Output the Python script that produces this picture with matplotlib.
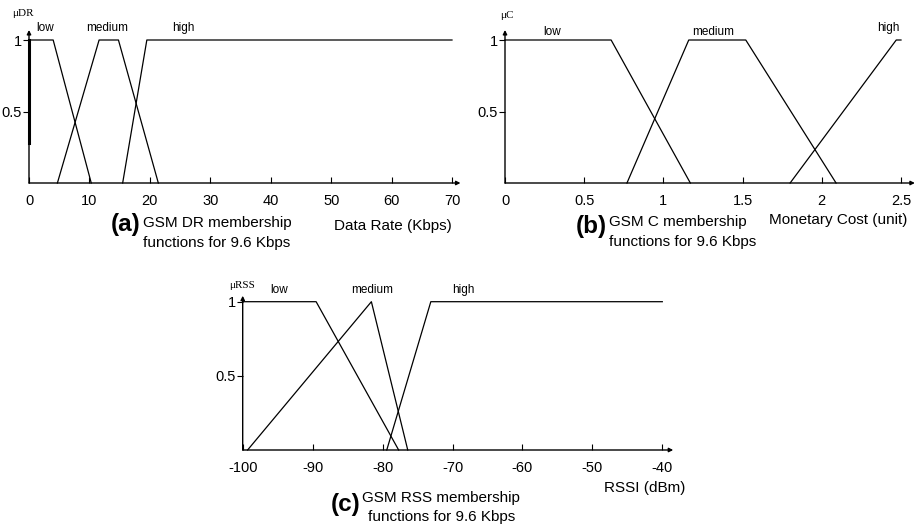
import matplotlib
matplotlib.use("Agg")
from matplotlib import pyplot as plt

plt.rcParams['font.family'] = ['Liberation Sans', 'DejaVu Sans']

W, H = 918, 525

# (a) data rate membership functions
dr_low_x = [0, 4.0, 10.3]
dr_low_y = [1, 1, 0]
dr_med_x = [4.7, 11.6, 14.8, 21.4]
dr_med_y = [0, 1, 1, 0]
dr_high_x = [15.5, 19.5, 70]
dr_high_y = [0, 1, 1]
dr_ticks = [0, 10, 20, 30, 40, 50, 60, 70]

# (b) monetary cost membership functions
c_low_x = [0, 0.67, 1.17]
c_low_y = [1, 1, 0]
c_med_x = [0.77, 1.16, 1.52, 2.09]
c_med_y = [0, 1, 1, 0]
c_high_x = [1.80, 2.47, 2.5]
c_high_y = [0, 1, 1]
c_ticks = [0, 0.5, 1, 1.5, 2, 2.5]

# (c) RSS membership functions
rss_low_x = [-100, -89.5, -77.7]
rss_low_y = [1, 1, 0]
rss_med_x = [-99.3, -81.6, -76.4]
rss_med_y = [0, 1, 0]
rss_high_x = [-79.4, -73.1, -40]
rss_high_y = [0, 1, 1]
rss_ticks = [-100, -90, -80, -70, -60, -50, -40]

fig = plt.figure(figsize=(W / 100, H / 100), dpi=100)


def px_text(x, y, s, **kw):
    fig.text(x / W, 1 - y / H, s, **kw)


def make_axes(x0, x1, y_top, y_bot, xlim, xticks, xtip, ytip):
    ax = fig.add_axes([x0 / W, 1 - y_bot / H, (x1 - x0) / W, (y_bot - y_top) / H])
    ax.set_xlim(*xlim)
    ax.set_ylim(0, 1)
    for s in ax.spines.values():
        s.set_visible(False)
    ax.set_xticks(xticks)
    ax.set_xticklabels([('%g' % t) for t in xticks])
    ax.set_yticks([0.5, 1])
    ax.set_yticklabels(['0.5', '1'])
    ax.tick_params(axis='x', direction='in', length=4, width=0.8, labelsize=10.5, pad=8)
    ax.tick_params(axis='y', direction='out', length=4, width=0.8, labelsize=10.5, pad=1)
    ax.patch.set_visible(False)
    # axis lines with arrow heads
    ap = dict(arrowstyle='-|>', lw=1.0, color='k', mutation_scale=6, shrinkA=0, shrinkB=0)
    ax.annotate('', xy=(xtip, 0), xytext=(0, 0), xycoords='axes fraction', arrowprops=ap)
    ax.annotate('', xy=(0, ytip), xytext=(0, 0), xycoords='axes fraction', arrowprops=ap)
    return ax


def draw(ax, curves):
    for xs, ys in curves:
        ax.plot(xs, ys, color='k', lw=0.9, clip_on=False)


# panel (a)
ax1 = make_axes(29, 452, 40, 183, (0, 70), dr_ticks, 1.02, 1.07)
draw(ax1, [(dr_low_x, dr_low_y), (dr_med_x, dr_med_y), (dr_high_x, dr_high_y)])
ax1.plot([0, 0], [0.28, 1], color='k', lw=2.2, clip_on=False)

# panel (b)
ax2 = make_axes(505, 901, 40, 183, (0, 2.5), c_ticks, 1.035, 1.07)
draw(ax2, [(c_low_x, c_low_y), (c_med_x, c_med_y), (c_high_x, c_high_y)])

# panel (c)
ax3 = make_axes(242.7, 662.3, 301.7, 450, (-100, -40), rss_ticks, 1.026, 1.04)
draw(ax3, [(rss_low_x, rss_low_y), (rss_med_x, rss_med_y), (rss_high_x, rss_high_y)])

small = dict(fontsize=8.5, ha='center', va='center')
serif = dict(fontsize=8, ha='center', va='center', family=['Liberation Serif', 'DejaVu Serif'])
cap = dict(fontsize=11, ha='left', va='center')
big = dict(fontsize=17.5, fontweight='bold', ha='right', va='center')

# labels (a)
px_text(23, 13, 'μDR', **serif)
px_text(45, 28, 'low', **small)
px_text(107, 28, 'medium', **small)
px_text(183, 28, 'high', **small)
px_text(140, 225, '(a)', **big)
px_text(143, 223, 'GSM DR membership', **cap)
px_text(143, 243, 'functions for 9.6 Kbps', **cap)
px_text(393, 226, 'Data Rate (Kbps)', fontsize=11, ha='center', va='center')

# labels (b)
px_text(507, 15, 'μC', **serif)
px_text(552, 32, 'low', **small)
px_text(713, 32, 'medium', **small)
px_text(888, 28, 'high', **small)
px_text(607, 226, '(b)', **big)
px_text(609, 222, 'GSM C membership', **cap)
px_text(609, 242, 'functions for 9.6 Kbps', **cap)
px_text(838, 220, 'Monetary Cost (unit)', fontsize=11, ha='center', va='center')

# labels (c)
px_text(242, 285, 'μRSS', **serif)
px_text(279, 290, 'low', **small)
px_text(372, 290, 'medium', **small)
px_text(463, 290, 'high', **small)
px_text(360, 505, '(c)', **big)
px_text(362, 498, 'GSM RSS membership', **cap)
px_text(368, 517, 'functions for 9.6 Kbps', **cap)
px_text(645, 488, 'RSSI (dBm)', fontsize=11, ha='center', va='center')

fig.savefig('out.png', dpi=100)
